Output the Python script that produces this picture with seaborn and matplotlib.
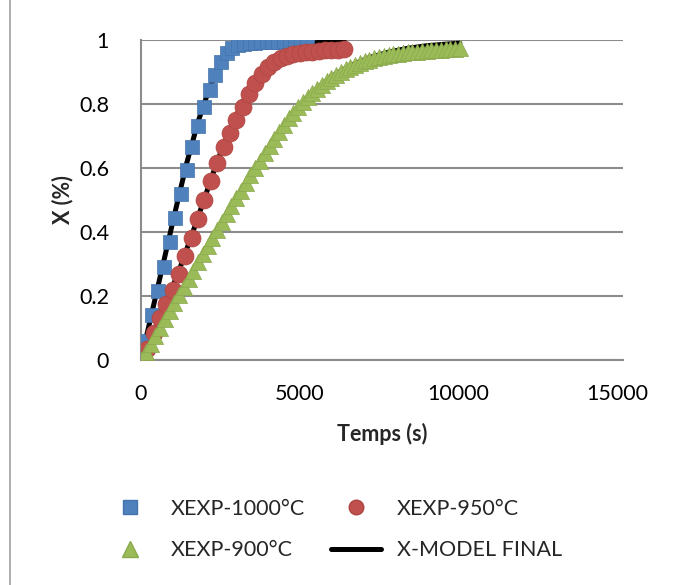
import matplotlib
matplotlib.use("Agg")
import matplotlib.pyplot as plt
from matplotlib.lines import Line2D
import seaborn as sns

# ---------------- data ----------------
t_1000 = [0, 180, 360, 540, 720, 900, 1080, 1260, 1440, 1620, 1800, 1980, 2160, 2340,
          2520, 2700, 2880, 3060, 3240, 3420, 3600, 3780, 3960, 4140, 4320, 4500,
          4680, 4860, 5040, 5220]
x_1000 = [0.0, 0.06, 0.14, 0.215, 0.29, 0.37, 0.445, 0.52, 0.595, 0.665, 0.73, 0.79,
          0.845, 0.89, 0.93, 0.958, 0.975, 0.983, 0.987, 0.99, 0.992, 0.993, 0.994,
          0.995, 0.995, 0.996, 0.996, 0.997, 0.997, 0.998]

t_950 = [0, 200, 400, 600, 800, 1000, 1200, 1400, 1600, 1800, 2000, 2200, 2400, 2600,
         2800, 3000, 3200, 3400, 3600, 3800, 4000, 4200, 4400, 4600, 4800, 5000, 5200,
         5400, 5600, 5800, 6000, 6200, 6400]
x_950 = [0.0, 0.035, 0.085, 0.13, 0.175, 0.22, 0.27, 0.325, 0.38, 0.44, 0.5, 0.56,
         0.615, 0.665, 0.71, 0.75, 0.79, 0.83, 0.865, 0.895, 0.915, 0.93, 0.943, 0.95,
         0.955, 0.959, 0.962, 0.964, 0.966, 0.968, 0.969, 0.97, 0.971]

t_900 = [0, 150, 300, 450, 600, 750, 900, 1050, 1200, 1350, 1500, 1650, 1800, 1950,
         2100, 2250, 2400, 2550, 2700, 2850, 3000, 3150, 3300, 3450, 3600, 3750, 3900,
         4050, 4200, 4350, 4500, 4650, 4800, 4950, 5100, 5250, 5400, 5550, 5700, 5850,
         6000, 6150, 6300, 6450, 6600, 6750, 6900, 7050, 7200, 7350, 7500, 7650, 7800,
         7950, 8100, 8250, 8400, 8550, 8700, 8850, 9000, 9150, 9300, 9450, 9600, 9750,
         9900, 10050]
x_900 = [0.0, 0.025, 0.05, 0.076, 0.101, 0.127, 0.152, 0.178, 0.203, 0.229, 0.254,
         0.279, 0.305, 0.33, 0.355, 0.38, 0.405, 0.43, 0.455, 0.48, 0.505, 0.529,
         0.553, 0.577, 0.6, 0.623, 0.646, 0.669, 0.692, 0.714, 0.735, 0.755, 0.773,
         0.79, 0.806, 0.821, 0.835, 0.848, 0.86, 0.871, 0.882, 0.892, 0.901, 0.909,
         0.916, 0.923, 0.929, 0.934, 0.939, 0.943, 0.947, 0.95, 0.953, 0.955, 0.957,
         0.959, 0.961, 0.963, 0.964, 0.966, 0.967, 0.968, 0.969, 0.97, 0.971, 0.972,
         0.973, 0.974]

# model curves (X-MODEL FINAL)
tm_1000 = [0, 360, 720, 1080, 1440, 1800, 2160, 2520, 2880, 3240, 3600, 3960, 4320,
           4680, 5040]
xm_1000 = [0.0, 0.155, 0.31, 0.465, 0.615, 0.745, 0.85, 0.93, 0.972, 0.99, 0.996,
           0.998, 0.999, 1.0, 1.0]
tm_950 = [0, 400, 800, 1200, 1600, 2000, 2400, 2800, 3200, 3600, 4000, 4400, 4800,
          5200, 5600, 6000, 6400]
xm_950 = [0.0, 0.085, 0.18, 0.28, 0.39, 0.505, 0.62, 0.72, 0.805, 0.87, 0.92, 0.955,
          0.975, 0.987, 0.993, 0.997, 0.999]
tm_900 = [0, 600, 1200, 1800, 2400, 3000, 3600, 4200, 4800, 5400, 6000, 6600, 7200,
          7800, 8400, 9000, 9600, 10050]
xm_900 = [0.0, 0.1, 0.2, 0.3, 0.4, 0.5, 0.6, 0.69, 0.77, 0.835, 0.885, 0.92, 0.945,
          0.962, 0.974, 0.982, 0.987, 0.99]

labels = ["XEXP-1000°C", "XEXP-950°C", "XEXP-900°C", "X-MODEL FINAL"]
x_ticks = [0, 5000, 10000, 15000]
y_ticks = [0, 0.2, 0.4, 0.6, 0.8, 1]

# ---------------- style ----------------
sns.set_theme(style="white")
plt.rcParams["font.family"] = ["Lato", "DejaVu Sans"]

BLUE, BLUE_E = "#4F81BD", "#4373AD"
RED, RED_E = "#C0504D", "#AD4542"
GREEN, GREEN_E = "#9BBB59", "#8AA94C"
GRID = "#8C8C8C"
FS = 15.5

fig = plt.figure(figsize=(6.8, 5.85), dpi=100)
ax = fig.add_axes([141 / 680, 1 - 360 / 585, (623 - 141) / 680, 320 / 585])

# model lines (drawn underneath the markers)
for tt, xx in [(tm_1000, xm_1000), (tm_950, xm_950), (tm_900, xm_900)]:
    sns.lineplot(x=tt, y=xx, color="black", lw=3.6, sort=False, estimator=None,
                 ax=ax, legend=False, zorder=2)

sns.scatterplot(x=t_1000, y=x_1000, marker="s", s=115, color=BLUE, edgecolor=BLUE_E,
                linewidth=0.5, ax=ax, legend=False, zorder=3)
sns.scatterplot(x=t_950, y=x_950, marker="o", s=150, color=RED, edgecolor=RED_E,
                linewidth=0.5, ax=ax, legend=False, zorder=4)
sns.scatterplot(x=t_900, y=x_900, marker="^", s=135, color=GREEN, edgecolor=GREEN_E,
                linewidth=0.5, ax=ax, legend=False, zorder=5)

ax.set_xlim(0, 15190)
ax.set_ylim(0, 1)
ax.set_xticks(x_ticks)
ax.set_xticklabels([str(v) for v in x_ticks])
ax.set_yticks(y_ticks)
ax.set_yticklabels(["0", "0.2", "0.4", "0.6", "0.8", "1"])
ax.tick_params(axis="both", length=0, labelsize=FS, colors="black")
ax.tick_params(axis="y", pad=23)
ax.tick_params(axis="x", pad=17)

ax.grid(axis="y", color=GRID, lw=1.5)
ax.grid(axis="x", visible=False)
ax.set_axisbelow(True)
for side in ["top", "right"]:
    ax.spines[side].set_visible(False)
for side in ["left", "bottom"]:
    ax.spines[side].set_color(GRID)
    ax.spines[side].set_linewidth(1.5)

ax.set_xlabel("Temps (s)", fontsize=FS, fontweight="bold", labelpad=14)
ax.set_ylabel("X (%)", fontsize=FS, fontweight="bold", labelpad=4)

h_1000 = Line2D([], [], marker="s", ls="", color=BLUE, markeredgecolor=BLUE_E, markersize=10)
h_950 = Line2D([], [], marker="o", ls="", color=RED, markeredgecolor=RED_E, markersize=10.5)
h_900 = Line2D([], [], marker="^", ls="", color=GREEN, markeredgecolor=GREEN_E, markersize=11)
h_mod = Line2D([], [], color="black", lw=3.6, solid_capstyle="round")
# column-major fill -> rows: (1000, 950), (900, model)
fig.legend([h_1000, h_900, h_950, h_mod],
           [labels[0], labels[2], labels[1], labels[3]],
           ncol=2, frameon=False, fontsize=FS,
           loc="upper left", bbox_to_anchor=(97 / 680, 1 - 490 / 585),
           handlelength=2.3, handletextpad=0.75, columnspacing=1.2,
           labelspacing=1.0, borderaxespad=0)

# chart-area border (left edge visible in the reference)
fig.add_artist(Line2D([10 / 680, 10 / 680], [0, 1], color="#A0A0A0", lw=1.2,
                      transform=fig.transFigure))

fig.savefig("out.png", dpi=100)
